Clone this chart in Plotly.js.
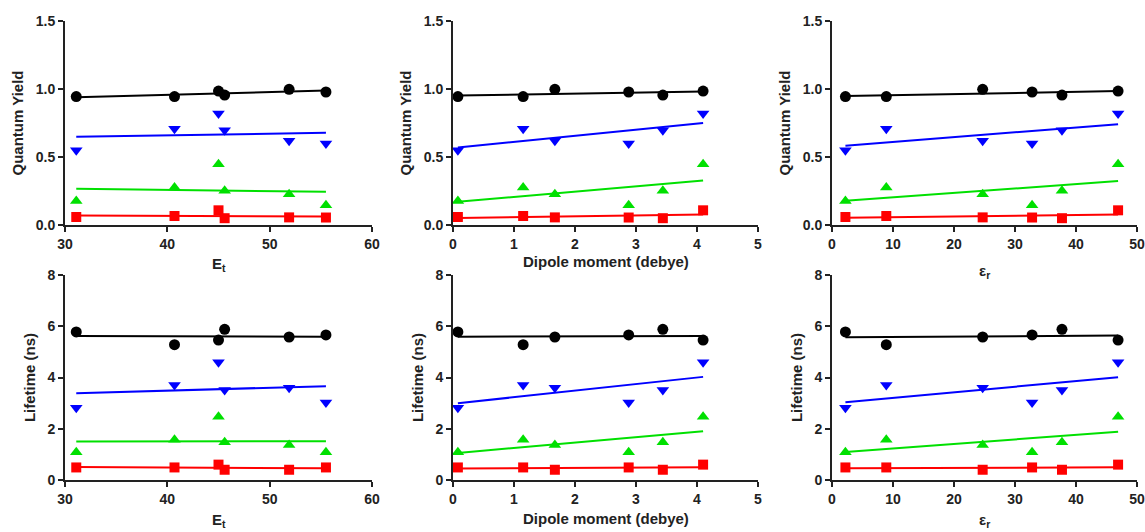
<!DOCTYPE html>
<html>
<head>
<meta charset="utf-8">
<script src="https://cdn.plot.ly/plotly-3.0.1.min.js"></script>
<style>html,body{margin:0;padding:0;background:#fff;}#chart{width:1145px;height:532px;}</style>
</head>
<body>
<div id="chart"></div>
<script>
// Solvents (order): cyclohexane, DCM, DMSO, acetonitrile, ethanol, methanol
const solvents = ["Cyclohexane", "Dichloromethane", "DMSO", "Acetonitrile", "Ethanol", "Methanol"];
const Et = [31.1, 40.7, 45.0, 45.6, 51.9, 55.5];
const dipole = [0.08, 1.15, 4.10, 3.44, 1.67, 2.88];
const epsR = [2.2, 8.9, 46.9, 37.7, 24.7, 32.8];

// Quantum yields for the four series
const qyBlack = [0.944, 0.944, 0.985, 0.955, 0.998, 0.978];
const qyBlue  = [0.549, 0.708, 0.820, 0.696, 0.620, 0.600];
const qyGreen = [0.176, 0.275, 0.446, 0.252, 0.226, 0.146];
const qyRed   = [0.059, 0.066, 0.108, 0.050, 0.056, 0.055];

// Lifetimes (ns)
const ltBlack = [5.78, 5.28, 5.46, 5.88, 5.58, 5.66];
const ltBlue  = [2.82, 3.71, 4.60, 3.51, 3.60, 3.02];
const ltGreen = [1.08, 1.57, 2.47, 1.47, 1.37, 1.08];
const ltRed   = [0.49, 0.49, 0.60, 0.40, 0.40, 0.49];

const seriesColors = ["#000000", "#0000ff", "#00e000", "#ff0000"];
const seriesSymbols = ["circle", "triangle-down", "triangle-up", "square"];

const xTitles = ["E<sub>t</sub>", "Dipole moment (debye)", "ε<sub>r</sub>"];
const yTitles = ["Quantum Yield", "Lifetime (ns)"];

const xDescriptors = [
  {x: Et, range: [30, 60], dtick: 10},
  {x: dipole, range: [0, 5], dtick: 1},
  {x: epsR, range: [0, 50], dtick: 10}
];
const yRows = [
  {series: [qyBlack, qyBlue, qyGreen, qyRed], range: [0, 1.5], dtick: 0.5, fmt: ".1f"},
  {series: [ltBlack, ltBlue, ltGreen, ltRed], range: [0, 8], dtick: 2, fmt: "d"}
];

function linfit(xs, ys) {
  const n = xs.length;
  const mx = xs.reduce((a, b) => a + b, 0) / n;
  const my = ys.reduce((a, b) => a + b, 0) / n;
  let sxy = 0, sxx = 0;
  for (let i = 0; i < n; i++) { sxy += (xs[i] - mx) * (ys[i] - my); sxx += (xs[i] - mx) ** 2; }
  const b = sxy / sxx, a = my - b * mx;
  const x0 = Math.min(...xs), x1 = Math.max(...xs);
  return {x: [x0, x1], y: [a + b * x0, a + b * x1]};
}

const W = 1145, H = 532;
const colPx = [[65, 372], [453, 758], [832, 1137]];
const rowPx = [[21, 225], [275, 480]];
// centre of x-axis title, pixels from top
const xTitleY = [[264, 262, 271], [520, 518, 520]];

const font = "Liberation Sans, Arial, sans-serif";
const titleFont = {family: font, size: 15, weight: "bold", color: "#222"};
const traces = [];
const annotations = [];
const layout = {
  width: W, height: H,
  margin: {l: 0, r: 0, t: 0, b: 0},
  paper_bgcolor: "#ffffff", plot_bgcolor: "rgba(0,0,0,0)",
  showlegend: false,
  font: {family: font, color: "#222", size: 14}
};

let k = 0;
yRows.forEach((row, r) => {
  xDescriptors.forEach((desc, c) => {
    k++;
    const xa = k === 1 ? "xaxis" : "xaxis" + k;
    const ya = k === 1 ? "yaxis" : "yaxis" + k;
    const xr = k === 1 ? "x" : "x" + k;
    const yr = k === 1 ? "y" : "y" + k;
    row.series.forEach((ys, s) => {
      const fit = linfit(desc.x, ys);
      traces.push({x: fit.x, y: fit.y, xaxis: xr, yaxis: yr, mode: "lines",
        line: {color: seriesColors[s], width: 2}, hoverinfo: "skip", cliponaxis: false});
      traces.push({x: desc.x, y: ys, text: solvents, xaxis: xr, yaxis: yr, mode: "markers",
        marker: {color: seriesColors[s], symbol: seriesSymbols[s], size: s === 3 ? 10 : 11},
        cliponaxis: false});
    });
    const common = {
      showgrid: false, zeroline: false, showline: true, linecolor: "#222", linewidth: 2,
      ticks: "outside", ticklen: 5, tickwidth: 2, tickcolor: "#222",
      tickfont: {family: font, size: 14, weight: "bold", color: "#222"}
    };
    layout[xa] = Object.assign({}, common, {
      domain: [colPx[c][0] / W, colPx[c][1] / W],
      anchor: yr, range: desc.range, dtick: desc.dtick, tick0: 0
    });
    layout[ya] = Object.assign({}, common, {
      domain: [1 - rowPx[r][1] / H, 1 - rowPx[r][0] / H],
      anchor: xr, range: row.range, dtick: row.dtick, tick0: 0, tickformat: row.fmt,
      title: {text: yTitles[r], font: titleFont, standoff: 8}
    });
    annotations.push({
      text: xTitles[c], xref: "paper", yref: "paper",
      x: (colPx[c][0] + colPx[c][1]) / 2 / W, y: 1 - xTitleY[r][c] / H,
      xanchor: "center", yanchor: "middle", showarrow: false, font: titleFont
    });
  });
});
layout.annotations = annotations;

Plotly.newPlot("chart", traces, layout, {displayModeBar: false, staticPlot: true});
</script>
</body>
</html>
